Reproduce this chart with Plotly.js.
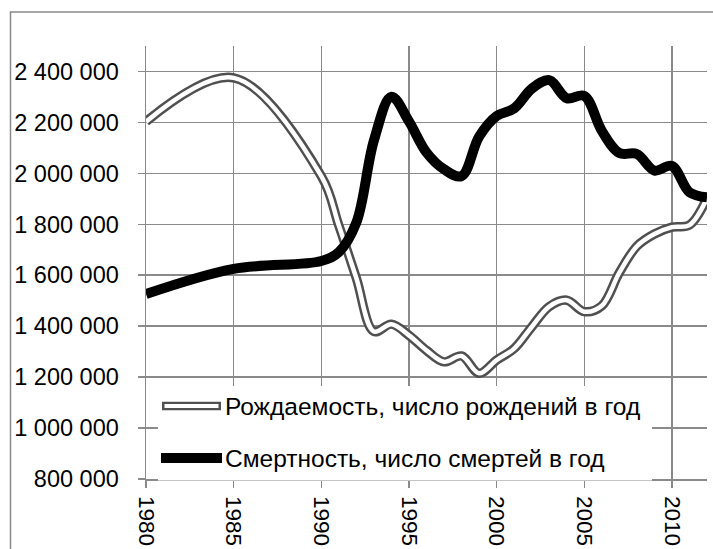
<!DOCTYPE html>
<html>
<head>
<meta charset="utf-8">
<script src="https://cdn.plot.ly/plotly-3.0.1.min.js"></script>
<style>
html,body{margin:0;padding:0;background:#fff;}
#chart{width:713px;height:549px;}
</style>
</head>
<body>
<div id="chart"></div>
<script>
// Data
const years = [1980, 1985, 1990, 1991, 1992, 1993, 1994, 1995, 1996, 1997, 1998, 1999, 2000,
               2001, 2002, 2003, 2004, 2005, 2006, 2007, 2008, 2009, 2010, 2011, 2012];
const births = [2203000, 2375000, 1989000, 1795000, 1588000, 1379000, 1408000, 1364000, 1305000,
                1260000, 1283000, 1215000, 1267000, 1312000, 1397000, 1477000, 1502000, 1457000,
                1480000, 1610000, 1714000, 1762000, 1789000, 1797000, 1902000];
const deaths = [1526000, 1625000, 1656000, 1691000, 1807000, 2129000, 2301000, 2204000, 2082000,
                2016000, 1989000, 2144000, 2225000, 2255000, 2332000, 2366000, 2295000, 2304000,
                2167000, 2080000, 2076000, 2011000, 2029000, 1926000, 1906000];
const seriesNames = ['Рождаемость, число рождений в год', 'Смертность, число смертей в год'];
const yTickVals = [800000, 1000000, 1200000, 1400000, 1600000, 1800000, 2000000, 2200000, 2400000];
const yTickText = ['800 000', '1 000 000', '1 200 000', '1 400 000', '1 600 000', '1 800 000',
                   '2 000 000', '2 200 000', '2 400 000'];
const xTickVals = [1980, 1985, 1990, 1995, 2000, 2005, 2010];
const xTickText = ['1980', '1985', '1990', '1995', '2000', '2005', '2010'];

// Layout geometry (pixels)
const W = 713, H = 549;
const L = 146, R = 707, T = 46, B = 479;
const px = x => (x - L) / (R - L);
const py = y => (B - y) / (B - T);

const FONT = 'Liberation Sans, Arial, sans-serif';
const GRID = '#8a8a8a';
const BIRTH_GRAY = '#505050';

const traces = [
  {x: years, y: births, type: 'scatter', mode: 'lines', name: seriesNames[0],
   line: {color: BIRTH_GRAY, width: 9.5, shape: 'spline', smoothing: 1}, hoverinfo: 'skip', showlegend: false},
  {x: years, y: births, type: 'scatter', mode: 'lines', name: seriesNames[0] + ' (inner)',
   line: {color: '#ffffff', width: 4.5, shape: 'spline', smoothing: 1}, hoverinfo: 'skip', showlegend: false},
  {x: years, y: deaths, type: 'scatter', mode: 'lines', name: seriesNames[1],
   line: {color: '#000000', width: 10, shape: 'spline', smoothing: 1}, hoverinfo: 'skip', showlegend: false}
];

const row1 = 406, row2 = 458;

const layout = {
  width: W, height: H,
  margin: {l: L, r: W - R, t: T, b: H - B, pad: 0},
  paper_bgcolor: '#ffffff',
  plot_bgcolor: '#ffffff',
  showlegend: false,
  font: {family: FONT, size: 23.5, color: '#000000'},
  xaxis: {
    type: 'linear', range: [1980, 2012], fixedrange: true,
    tickmode: 'array', tickvals: xTickVals, ticktext: xTickText,
    tickangle: 90,
    showgrid: true, gridcolor: GRID, gridwidth: 1.5,
    showline: true, linecolor: GRID, linewidth: 1.5,
    ticks: 'outside', ticklen: 7, tickcolor: GRID, tickwidth: 1.5,
    ticklabelstandoff: 4,
    zeroline: false,
    tickfont: {family: FONT, size: 22.5, color: '#000000'}
  },
  yaxis: {
    type: 'linear', range: [800000, 2500000], fixedrange: true,
    tickmode: 'array', tickvals: yTickVals, ticktext: yTickText,
    showgrid: true, gridcolor: GRID, gridwidth: 1.5,
    showline: true, linecolor: GRID, linewidth: 1.5,
    ticks: 'outside', ticklen: 7, tickcolor: GRID, tickwidth: 1.5,
    ticklabelstandoff: 14,
    zeroline: false,
    tickfont: {family: FONT, size: 23.5, color: '#000000'}
  },
  shapes: [
    // outer chart border (cut off at the right and bottom)
    {type: 'rect', xref: 'paper', yref: 'paper', layer: 'below',
     x0: px(10.5), x1: px(760), y0: py(600), y1: py(12),
     line: {color: GRID, width: 1.5}, fillcolor: 'rgba(0,0,0,0)'},
    // legend background
    {type: 'rect', xref: 'paper', yref: 'paper', layer: 'above',
     x0: px(158), x1: px(652), y0: py(480.5), y1: py(386),
     line: {width: 0}, fillcolor: '#ffffff'},
    // legend sample: births (double line)
    {type: 'line', xref: 'paper', yref: 'paper', layer: 'above',
     x0: px(162), x1: px(221), y0: py(row1), y1: py(row1),
     line: {color: BIRTH_GRAY, width: 8.5}},
    {type: 'line', xref: 'paper', yref: 'paper', layer: 'above',
     x0: px(164.5), x1: px(218.5), y0: py(row1), y1: py(row1),
     line: {color: '#ffffff', width: 4}},
    // legend sample: deaths
    {type: 'line', xref: 'paper', yref: 'paper', layer: 'above',
     x0: px(161), x1: px(222), y0: py(row2), y1: py(row2),
     line: {color: '#000000', width: 10}}
  ],
  annotations: [
    {xref: 'paper', yref: 'paper', x: px(223), y: py(row1), xanchor: 'left', yanchor: 'middle',
     text: seriesNames[0], showarrow: false, font: {family: FONT, size: 24.5, color: '#000000'}},
    {xref: 'paper', yref: 'paper', x: px(223), y: py(row2), xanchor: 'left', yanchor: 'middle',
     text: seriesNames[1], showarrow: false, font: {family: FONT, size: 24.5, color: '#000000'}}
  ]
};

Plotly.newPlot('chart', traces, layout, {staticPlot: true, displayModeBar: false});
</script>
</body>
</html>
